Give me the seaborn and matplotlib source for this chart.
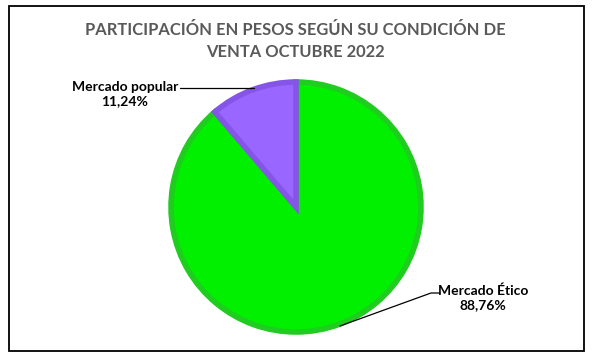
import matplotlib
matplotlib.use("Agg")
import matplotlib.pyplot as plt
import seaborn as sns
from matplotlib.patches import Rectangle

categories = ["Mercado Ético", "Mercado popular"]
values = [88.76, 11.24]
pct_labels = ["88,76%", "11,24%"]
title = "PARTICIPACIÓN EN PESOS SEGÚN SU CONDICIÓN DE\nVENTA OCTUBRE 2022"

sns.set_theme(style="white")
plt.rcParams['font.family'] = ['Lato', 'DejaVu Sans']

W, H = 600, 361
fig = plt.figure(figsize=(6, 3.61), dpi=100)
fig.patch.set_facecolor("white")
ax = fig.add_axes([0, 0, 1, 1])

def py(y):
    return H - y

fills = ["#00F000", "#9966FF"]
edges = ["#1FCC1F", "#8555E8"]
wedges, _ = ax.pie(values, colors=fills, startangle=90, counterclock=False,
                   center=(296, py(207)), radius=125, frame=True,
                   wedgeprops=dict(linewidth=4))
for w, e in zip(wedges, edges):
    w.set_edgecolor(e)
ax.set_xlim(0, W)
ax.set_ylim(0, H)
ax.set_aspect("equal")
ax.axis("off")

# chart frame
ax.add_patch(Rectangle((9, py(351)), 575, 345, fill=False, edgecolor="black", linewidth=1.3))

ax.text(295, py(41), title, ha="center", va="center", fontsize=11.9,
        fontweight="bold", color="#595959", linespacing=1.4)

# labels
ax.text(125, py(94), f"{categories[1]}\n{pct_labels[1]}", ha="center", va="center",
        fontsize=10, fontweight="bold", color="black", linespacing=1.25)
ax.plot([180, 254], [py(88), py(88)], color="black", lw=0.9)

ax.text(483, py(298), f"{categories[0]}\n{pct_labels[0]}", ha="center", va="center",
        fontsize=10, fontweight="bold", color="black", linespacing=1.25)
ax.plot([340, 431, 440], [py(326), py(293), py(293)], color="black", lw=0.9)

fig.savefig("out.png", dpi=100, facecolor="white")
